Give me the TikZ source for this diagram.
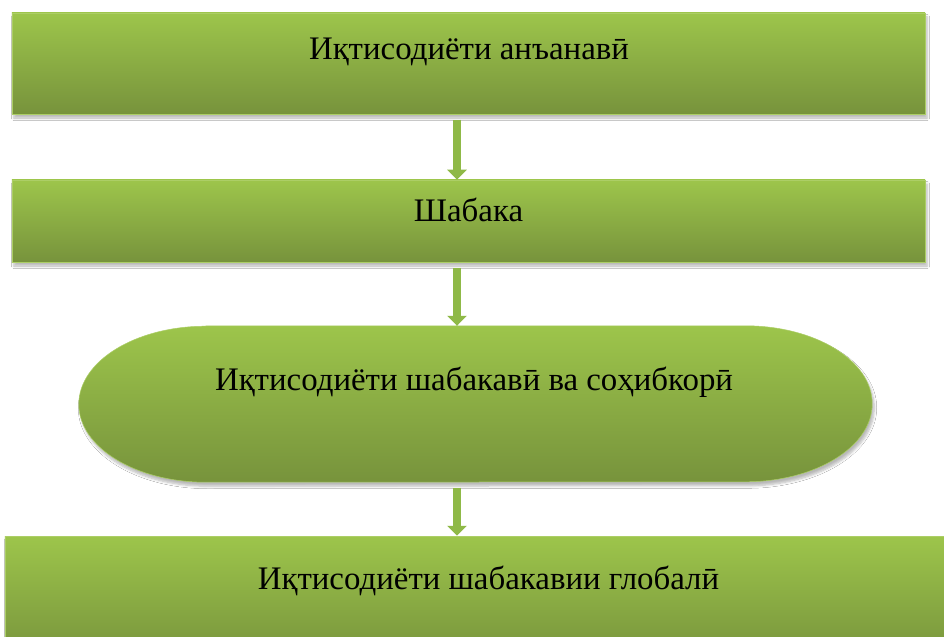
\documentclass[tikz,border=0pt]{standalone}
\usepackage{fontspec}
\setmainfont{Liberation Serif}
\newfontfamily\tnr{Liberation Serif}
\usetikzlibrary{shadows.blur,arrows.meta,calc}
\definecolor{gtop}{HTML}{9DC54B}
\definecolor{gbot}{HTML}{77933C}
\definecolor{arr}{HTML}{8FB947}
\tikzset{
  gshadow/.style={blur shadow={shadow xshift=2bp, shadow yshift=-4bp, shadow blur radius=2.5bp, shadow opacity=28, shadow blur steps=6}},
  greenbox/.style={rectangle, top color=gtop, bottom color=gbot, draw=gtop!85!white, line width=0.5bp, gshadow, inner sep=0pt},
  frame/.style={rectangle, inner sep=0pt},
  lbl/.style={font=\tnr\fontsize{33}{40}\selectfont, anchor=base, inner sep=0pt},
  flow/.style={draw=arr, line width=8bp, -{Triangle[width=19bp,length=10bp]}, shorten <=5.5bp},
}
\begin{document}
\begin{tikzpicture}[x=1bp,y=-1bp]
\useasboundingbox (0,0) rectangle (944,637);
\fill[white] (0,0) rectangle (944,637);
% boxes
\node[greenbox, minimum width=913bp, minimum height=101bp] (b1) at (468.5,63.5) {};
\node[greenbox, minimum width=913bp, minimum height=82bp] (b2) at (468.5,221) {};
\node[frame, minimum width=793bp, minimum height=156bp] (e) at (475.5,404) {};
\path[top color=gtop, bottom color=gbot, draw=gtop!85!white, line width=0.5bp, gshadow]
  ($(e.north west)+(127,0)$) -- ($(e.north east)+(-127,0)$)
  arc[start angle=-90, end angle=90, x radius=127, y radius=78]
  -- ($(e.south west)+(127,0)$)
  arc[start angle=90, end angle=270, x radius=127, y radius=78] -- cycle;
\node[greenbox, minimum width=970bp, minimum height=124bp] (b4) at (490,598) {};
% labels
\node[lbl] (t1) at (469,60) {Иқтисодиёти анъанавӣ};
\node[lbl] (t2) at (468.5,222) {Шабака};
\node[lbl] (t3) at (474,390) {Иқтисодиёти шабакавӣ ва соҳибкорӣ};
\node[lbl] (t4) at (488.5,589) {Иқтисодиёти шабакавии глобалӣ};
% arrows
\coordinate (ax) at (457,0);
\draw[flow] (b1.south -| ax) -- (b2.north -| ax);
\draw[flow] (b2.south -| ax) -- (e.north -| ax);
\draw[flow] (e.south -| ax) -- (b4.north -| ax);
\end{tikzpicture}
\end{document}
